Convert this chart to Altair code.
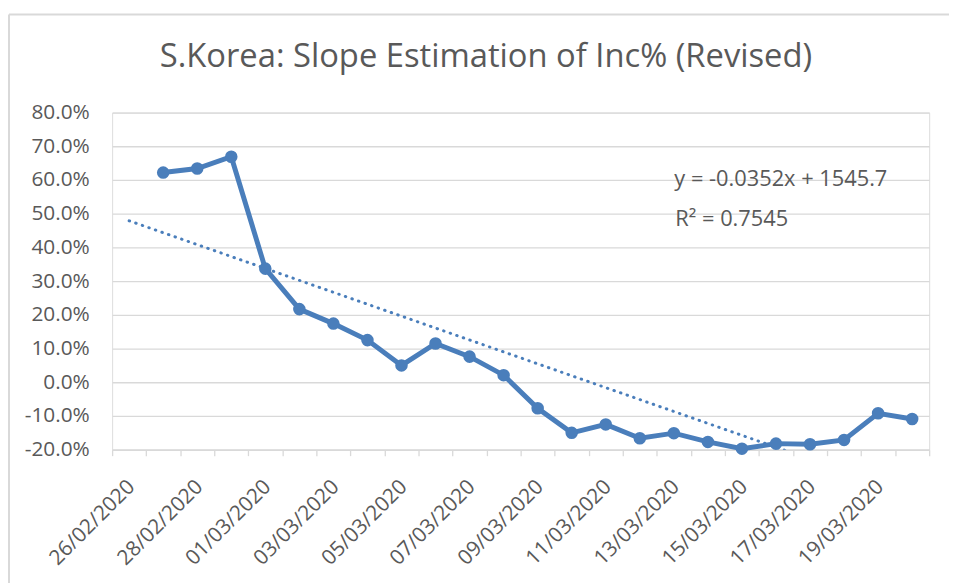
import altair as alt
import pandas as pd

# ---------------- data ----------------
dates = [
    "26/02/2020", "27/02/2020", "28/02/2020", "29/02/2020",
    "01/03/2020", "02/03/2020", "03/03/2020", "04/03/2020",
    "05/03/2020", "06/03/2020", "07/03/2020", "08/03/2020",
    "09/03/2020", "10/03/2020", "11/03/2020", "12/03/2020",
    "13/03/2020", "14/03/2020", "15/03/2020", "16/03/2020",
    "17/03/2020", "18/03/2020", "19/03/2020", "20/03/2020",
]
# Inc% values (in percent) from 27/02/2020 to 20/03/2020
inc_pct = [62.2, 63.4, 66.9, 33.7, 21.7, 17.4, 12.5, 5.0, 11.5, 7.6, 2.1,
           -7.7, -15.0, -12.5, -16.6, -15.1, -17.7, -19.7, -18.2, -18.4,
           -17.1, -9.2, -10.9]
label_dates = dates[::2]
y_ticks = [-0.2, -0.1, 0.0, 0.1, 0.2, 0.3, 0.4, 0.5, 0.6, 0.7, 0.8]
title_text = "S.Korea: Slope Estimation of Inc% (Revised)"
eq_text = "y = -0.0352x + 1545.7"
r2_text = "R² = 0.7545"

df = pd.DataFrame({
    "date": dates[1:],
    "day": list(range(1, len(dates))),
    "v": [p / 100 for p in inc_pct],
})

FONT = "Open Sans"
GREY = "#595959"
GRID = "#d9d9d9"
BLUE = "#4a7ebb"
LABEL_SIZE = 21
NOTE_SIZE = 22

label_js = "[" + ",".join(f"'{d}'" for d in label_dates) + "]"

xscale = alt.Scale(domain=dates, paddingInner=0, paddingOuter=0)
yscale = alt.Scale(domain=[-0.2, 0.8], nice=False, zero=False)

xaxis = alt.Axis(
    title=None, labelAngle=-45, labelAlign="right", labelBaseline="middle",
    labelExpr=f"indexof({label_js}, datum.value) >= 0 ? datum.label : ''",
    labelOverlap=False, tickBand="extent", ticks=True, tickSize=6,
    tickColor=GRID, tickWidth=1.3, domainColor=GRID, domainWidth=1.3,
    grid=False, labelPadding=28, labelOffset=2, labelFont=FONT,
    labelFontSize=LABEL_SIZE, labelColor=GREY,
)
yaxis = alt.Axis(
    title=None, values=y_ticks, format=".1%",
    labelExpr="replace(datum.label, '\u2212', '-')",
    grid=True, gridColor=GRID, labelOverlap=False,
    gridWidth=1.3, domain=False, ticks=False, labelPadding=23,
    labelFont=FONT, labelFontSize=LABEL_SIZE, labelColor=GREY,
)

X = alt.X("date:N", scale=xscale, axis=xaxis, sort=dates)
Y = alt.Y("v:Q", scale=yscale, axis=yaxis)

base = alt.Chart(df)

line = base.mark_line(color=BLUE, strokeWidth=5).encode(x=X, y=Y)
points = base.mark_point(filled=True, color=BLUE, size=160, opacity=1).encode(x=X, y=Y)
trend = base.transform_regression(
    "day", "v", method="linear", extent=[0, len(dates) - 1]
).transform_calculate(
    date="timeFormat(datetime(2020, 1, 26 + datum.day), '%d/%m/%Y')"
).mark_line(
    color=BLUE, strokeWidth=3, strokeDash=[0.5, 6.5], strokeCap="round", clip=True
).encode(x=X, y=Y)

one = pd.DataFrame({"k": [0]})
title = alt.Chart(one).mark_text(
    text=title_text, font=FONT, fontSize=33, color=GREY, align="center",
    baseline="alphabetic"
).encode(x=alt.value(377), y=alt.value(-46))
eq = alt.Chart(one).mark_text(
    text=eq_text, font=FONT, fontSize=NOTE_SIZE, color=GREY, align="left",
    baseline="alphabetic"
).encode(x=alt.value(567), y=alt.value(74))
r2 = alt.Chart(one).mark_text(
    text=r2_text, font=FONT, fontSize=NOTE_SIZE, color=GREY, align="left",
    baseline="alphabetic"
).encode(x=alt.value(568), y=alt.value(114))

border_v = alt.Chart(one).mark_rule(color=GRID, strokeWidth=2).encode(
    x=alt.value(-104), y=alt.value(-99), y2=alt.value(700)
)
border_h = alt.Chart(one).mark_rule(color=GRID, strokeWidth=2).encode(
    x=alt.value(-104), x2=alt.value(900), y=alt.value(-99)
)

chart = alt.layer(
    border_v, border_h, trend, line, points, title, eq, r2
).properties(
    width=824, height=340,
    padding={"left": 105, "top": 103, "right": 20, "bottom": 132},
    autosize=alt.AutoSizeParams(type="none"),
).configure_view(stroke=None).configure(background="white")

chart.save("out.html", embed_options={"renderer": "svg", "actions": False})
